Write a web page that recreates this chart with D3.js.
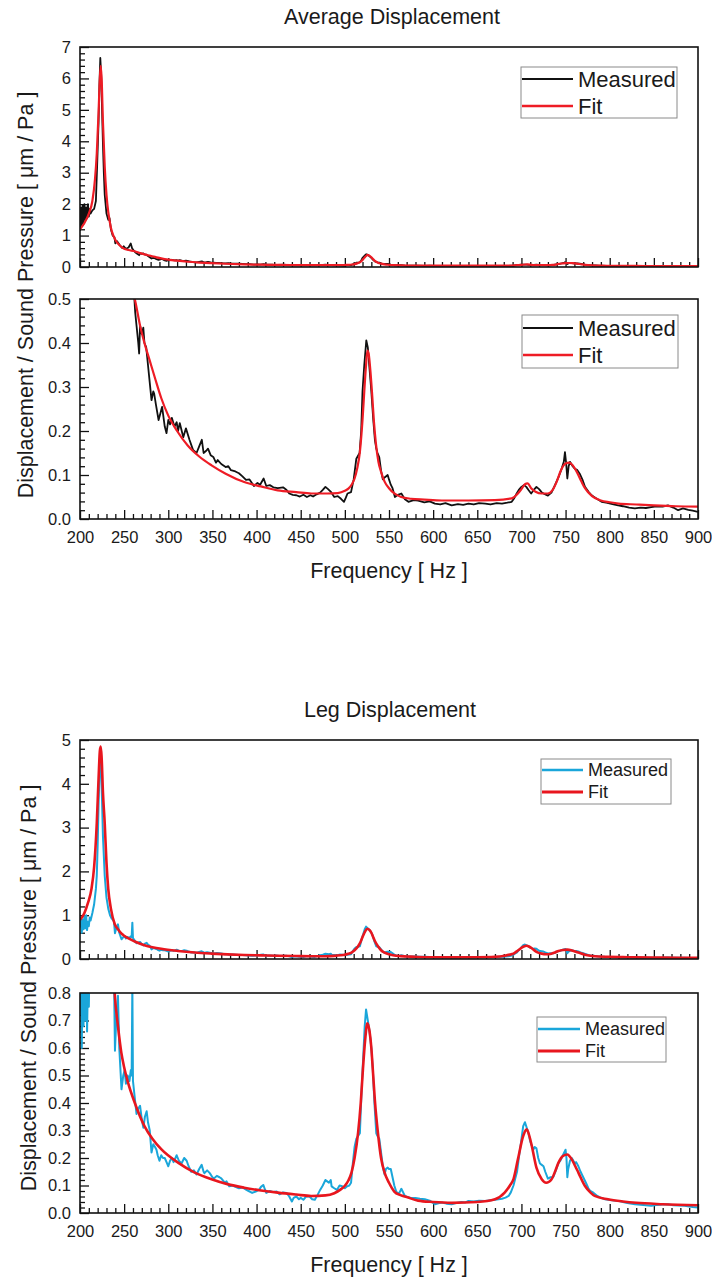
<!DOCTYPE html>
<html>
<head>
<meta charset="utf-8">
<script src="https://cdn.jsdelivr.net/npm/d3@7"></script>
<style>
  html, body { margin: 0; padding: 0; background: #fff; }
  svg { display: block; font-family: "Liberation Sans", Arial, sans-serif; }
</style>
</head>
<body>
<svg id="chart" width="712" height="1283"></svg>
<script>
// ---- data: frequency [Hz], displacement / sound pressure [um/Pa] ----
const freqTicks = [200, 250, 300, 350, 400, 450, 500, 550, 600, 650, 700, 750, 800, 850, 900];

const avgMeasured = [[200,1.15],[201,1.9],[202,1.3],[203,1.95],[204,1.4],[205,2.0],[206,1.5],[207,1.9],[208,1.55],[209,2.0],[210,1.6],[211,1.85],[212,1.7],[214,1.8],[216,1.85],[218,2.1],[219.5,3.3],[221,4.6],[222,5.8],[223,6.65],[224,6.1],[225,5.0],[226,3.9],[227,3.0],[228,2.3],[230,1.7],[232,1.5],[233.5,1.55],[235,1.2],[237,1.0],[239,0.95],[240,0.75],[242,0.82],[245,0.7],[248,0.6],[249.5,0.66],[252,0.58],[255,0.62],[257.5,0.75],[259,0.6],[261,0.52],[262.5,0.47],[264,0.44],[266,0.4],[267,0.376],[268,0.44],[270,0.42],[271.7,0.435],[273,0.4],[275,0.39],[277,0.35],[279,0.31],[281,0.27],[283,0.29],[284,0.285],[286,0.26],[289,0.225],[291,0.24],[293,0.255],[296,0.21],[298,0.195],[300,0.225],[302,0.215],[304,0.23],[307,0.21],[309.5,0.22],[311,0.2],[313,0.218],[317,0.186],[320,0.206],[324,0.18],[328,0.157],[332,0.15],[335,0.165],[338,0.18],[340,0.15],[343,0.155],[345,0.16],[348,0.145],[351,0.141],[354,0.128],[356,0.134],[360,0.125],[365,0.118],[368,0.12],[371,0.111],[376,0.108],[380,0.104],[384,0.097],[388,0.089],[392,0.09],[397,0.075],[401,0.082],[404,0.078],[408,0.092],[411,0.075],[415,0.077],[419,0.072],[424,0.07],[430,0.072],[434,0.066],[437,0.058],[441,0.055],[445,0.054],[449,0.051],[453,0.055],[457,0.05],[461,0.054],[464,0.051],[468,0.056],[472,0.06],[475,0.066],[478,0.073],[481,0.068],[484.5,0.061],[488,0.05],[492,0.052],[495.6,0.046],[499,0.039],[501,0.048],[503,0.058],[507,0.061],[510,0.09],[513,0.137],[516.7,0.15],[518.5,0.2],[520,0.29],[522,0.35],[524.3,0.406],[526,0.39],[528,0.34],[530,0.29],[532,0.23],[534,0.18],[535.6,0.16],[537,0.15],[539,0.14],[541,0.11],[543,0.09],[545.4,0.095],[548.5,0.1],[550,0.09],[552,0.078],[554,0.07],[556.7,0.05],[560,0.055],[564,0.058],[568,0.045],[572,0.039],[578,0.043],[583,0.042],[590,0.038],[596,0.04],[602,0.035],[608,0.033],[614,0.036],[621,0.031],[628,0.034],[634,0.032],[640,0.035],[646,0.033],[652,0.036],[659,0.035],[665,0.033],[672,0.036],[678,0.035],[684,0.037],[689,0.039],[692,0.048],[694.6,0.058],[697,0.066],[700,0.073],[703,0.077],[705.5,0.073],[708,0.066],[711,0.058],[714,0.066],[717,0.073],[720,0.068],[722.8,0.061],[726,0.057],[730,0.053],[734,0.06],[738,0.077],[742,0.095],[745.5,0.114],[748,0.13],[749.3,0.152],[750.5,0.13],[752,0.092],[753.5,0.12],[755,0.13],[758,0.12],[760.6,0.114],[763,0.112],[766,0.103],[769,0.09],[772,0.073],[776,0.062],[779.5,0.054],[784,0.048],[790.8,0.039],[796,0.037],[803,0.034],[809.6,0.031],[815,0.029],[822,0.026],[828.5,0.024],[835,0.026],[841,0.025],[847,0.027],[853,0.029],[860,0.028],[866,0.031],[872,0.026],[877.5,0.02],[883,0.024],[889,0.021],[894,0.019],[900,0.016]];

const avgFit = [[200,1.2],[205,1.4],[210,1.7],[214,2.1],[217,2.8],[219,3.6],[221,4.9],[222.5,6.0],[223.5,6.4],[224.5,6.0],[226,4.6],[228,3.2],[230,2.3],[232,1.75],[235,1.25],[238,0.98],[242,0.78],[246,0.66],[250,0.58],[255,0.54],[262,0.5],[268,0.44],[273,0.4],[279,0.36],[285,0.32],[292,0.275],[300,0.235],[310,0.2],[322,0.167],[335,0.142],[349,0.122],[365,0.103],[386,0.084],[405,0.074],[424,0.065],[445,0.061],[462,0.058],[480,0.058],[492,0.059],[500,0.064],[504,0.069],[508,0.079],[511,0.092],[514,0.115],[517,0.152],[520,0.225],[522,0.29],[524,0.35],[525.5,0.383],[527,0.375],[529,0.335],[531,0.28],[533,0.22],[535,0.175],[538,0.13],[541,0.107],[545,0.085],[550,0.07],[556,0.058],[564,0.05],[575,0.046],[590,0.044],[610,0.042],[640,0.042],[670,0.043],[689,0.047],[696,0.058],[700,0.068],[704,0.079],[707,0.081],[711,0.07],[716,0.062],[723,0.058],[730,0.058],[735,0.065],[740,0.085],[745,0.112],[750,0.126],[754,0.128],[758,0.122],[763,0.106],[768,0.085],[772,0.07],[780,0.052],[790,0.042],[800,0.038],[810,0.035],[830,0.033],[850,0.031],[875,0.029],[900,0.028]];

const legMeasured = [[200,0.72],[201,0.95],[202,0.6],[203,0.9],[204,0.68],[205,0.98],[206,0.7],[207,1.0],[208,0.66],[209,0.85],[210,0.75],[211,0.95],[212,0.88],[214,1.05],[216,1.25],[218,1.6],[219,1.9],[220,2.6],[221,3.5],[222,4.2],[223,4.5],[224,4.3],[225,3.6],[226,2.8],[228,1.9],[230,1.4],[232,1.15],[234,1.0],[236,0.92],[238.5,0.86],[239.6,0.59],[241,0.7],[243,0.79],[244.5,0.6],[247,0.45],[249,0.5],[250.6,0.52],[252,0.47],[254,0.5],[256,0.48],[257.6,0.52],[258.5,0.5],[259.3,0.83],[260,0.48],[262,0.42],[264,0.36],[266,0.38],[268,0.39],[270,0.34],[271.8,0.31],[273.5,0.35],[275.5,0.37],[277,0.33],[279,0.3],[281,0.22],[283,0.25],[285,0.24],[286.6,0.23],[288,0.21],[290,0.19],[292,0.21],[294,0.2],[296,0.2],[298,0.185],[300,0.17],[302,0.19],[304,0.2],[306,0.185],[309.5,0.21],[312,0.19],[315,0.18],[318,0.2],[320.8,0.19],[323,0.17],[326,0.15],[329,0.155],[332,0.14],[335,0.16],[337.8,0.175],[340,0.15],[341,0.145],[344,0.155],[347,0.145],[350,0.13],[352,0.126],[355,0.135],[358,0.13],[360,0.126],[364,0.11],[366,0.115],[369,0.097],[373,0.1],[376,0.095],[380,0.09],[384,0.093],[388,0.085],[391,0.08],[395,0.073],[399,0.078],[403,0.085],[405,0.095],[407.6,0.102],[409,0.09],[411,0.073],[415,0.08],[419,0.076],[422.7,0.078],[426,0.068],[430,0.075],[434,0.073],[437,0.06],[440,0.042],[442,0.055],[445,0.06],[448,0.05],[450,0.055],[453,0.048],[456,0.06],[460,0.06],[463,0.05],[466,0.048],[469,0.065],[472,0.084],[475,0.1],[478,0.12],[480,0.115],[482,0.11],[484,0.12],[485,0.097],[488,0.09],[491,0.084],[494,0.1],[497,0.097],[500,0.09],[502.6,0.097],[505,0.1],[507,0.11],[509,0.18],[511,0.24],[513,0.27],[515,0.28],[517,0.29],[519,0.45],[521,0.58],[522.5,0.68],[524,0.74],[526,0.7],[528,0.66],[530,0.6],[531.7,0.52],[533.5,0.4],[535.6,0.29],[537,0.28],[539,0.27],[541,0.22],[543,0.17],[545,0.14],[546.5,0.16],[548.5,0.165],[550,0.16],[552,0.16],[554,0.13],[556,0.1],[558,0.08],[560,0.07],[562,0.075],[564,0.088],[566,0.075],[568,0.062],[571,0.058],[575,0.055],[580,0.055],[585,0.052],[590.6,0.05],[596,0.045],[602,0.032],[606,0.035],[610,0.038],[615,0.034],[621,0.032],[626,0.036],[632,0.04],[636,0.038],[640,0.044],[646,0.042],[652,0.045],[659,0.044],[665,0.046],[670,0.048],[674,0.05],[678,0.052],[682,0.056],[685.5,0.062],[688,0.075],[691,0.1],[693,0.125],[695,0.15],[697,0.2],[699,0.244],[702,0.316],[704,0.33],[706,0.31],[708,0.29],[710,0.26],[713.4,0.23],[715,0.24],[717,0.235],[719,0.2],[721,0.18],[723,0.175],[725,0.17],[727,0.15],[730,0.125],[733,0.13],[736,0.13],[739,0.155],[741.7,0.18],[744,0.19],[747,0.21],[750,0.23],[751,0.2],[752,0.13],[753,0.16],[755,0.19],[757,0.2],[760.6,0.18],[762,0.185],[764.5,0.17],[767,0.15],[770,0.13],[773,0.11],[775.8,0.09],[778,0.08],[781.5,0.074],[786,0.062],[790,0.055],[794.7,0.05],[800,0.047],[805,0.045],[809.6,0.044],[815,0.04],[820,0.036],[828.5,0.032],[835,0.03],[841,0.028],[847,0.026],[853,0.029],[860,0.031],[866,0.032],[872,0.028],[878,0.027],[885,0.026],[890,0.024],[894,0.022],[900,0.02]];

const legFit = [[200,0.89],[205,1.05],[209,1.28],[213,1.6],[216,2.1],[219,3.1],[221,4.1],[222.5,4.75],[223.5,4.85],[224.5,4.6],[226,3.8],[228,3.1],[230,2.2],[232,1.6],[235,1.15],[239.3,0.8],[243,0.68],[246.8,0.583],[250,0.53],[254.4,0.474],[262,0.401],[273,0.316],[282,0.27],[292,0.232],[311,0.183],[330,0.147],[349,0.123],[367,0.105],[386,0.092],[405,0.082],[424,0.074],[445,0.067],[462,0.062],[478,0.064],[488,0.072],[495,0.085],[500,0.099],[504,0.118],[507.5,0.147],[511,0.2],[515,0.292],[518,0.4],[520.5,0.524],[523,0.63],[525.5,0.69],[528,0.66],[530,0.6],[531.7,0.52],[534,0.41],[537.5,0.29],[541,0.2],[545,0.147],[550,0.11],[556,0.078],[563,0.065],[570,0.058],[583,0.045],[600,0.04],[621,0.037],[650,0.04],[670,0.05],[681,0.074],[687,0.1],[691,0.123],[696,0.195],[702,0.28],[706,0.304],[709,0.28],[712,0.24],[717,0.165],[723,0.123],[728,0.11],[734,0.122],[738,0.15],[742,0.183],[747,0.207],[752,0.213],[757,0.195],[761,0.17],[764.5,0.147],[772,0.098],[778,0.075],[783,0.062],[798,0.05],[815,0.042],[830,0.037],[860,0.032],[900,0.028]];

const seriesNames = ["Measured", "Fit"];
const figureTitles = ["Average Displacement", "Leg Displacement"];
const xTitle = "Frequency [ Hz ]";
const yTitle = "Displacement / Sound Pressure [ \u03bcm / Pa ]";

// ---- figure setup ----
const figures = [
  { title: figureTitles[0], measured: avgMeasured, fit: avgFit,
    measuredColor: "#111111", fitColor: "#ee1c25", measuredWidth: 1.8, fitWidth: 2.2 },
  { title: figureTitles[1], measured: legMeasured, fit: legFit,
    measuredColor: "#1aa6da", fitColor: "#e8161e", measuredWidth: 2, fitWidth: 2.6 }
];

// panel layout: each figure has a full-range panel and a zoomed panel
const panels = [
  { fig: 0, top: 47,  bottom: 267,  yMax: 7,   yStep: 1,   fmt: d3.format("d"),   xLabels: false,
    legend: { x: 521, y: 67,  w: 156, h: 51, fs: 22, r1: 79,  r2: 106, line: 52, tx: 578 } },
  { fig: 0, top: 299, bottom: 519,  yMax: 0.5, yStep: 0.1, fmt: d3.format(".1f"), xLabels: true,
    legend: { x: 522, y: 315, w: 156, h: 53, fs: 22, r1: 328, r2: 355, line: 51, tx: 578 } },
  { fig: 1, top: 740, bottom: 959,  yMax: 5,   yStep: 1,   fmt: d3.format("d"),   xLabels: false,
    legend: { x: 541, y: 759, w: 130, h: 45, fs: 18, r1: 770, r2: 792, line: 42, tx: 588 } },
  { fig: 1, top: 993, bottom: 1213, yMax: 0.8, yStep: 0.1, fmt: d3.format(".1f"), xLabels: true,
    legend: { x: 537, y: 1017, w: 129, h: 45, fs: 18, r1: 1029, r2: 1051, line: 43, tx: 585 } }
];

const svg = d3.select("#chart");
const left = 80, right = 698;
const x = d3.scaleLinear().domain([200, 900]).range([left, right]);
const xMinor = d3.range(200, 901, 10).filter(v => v % 50 !== 0);

const textColor = "#1a1a1a";
const tickFont = 16.5;

panels.forEach((p, i) => {
  const f = figures[p.fig];
  const y = d3.scaleLinear().domain([0, p.yMax]).range([p.bottom, p.top]);
  const nMajor = Math.round(p.yMax / p.yStep);
  const yMajor = d3.range(0, nMajor + 1).map(k => +(k * p.yStep).toFixed(4));
  const yMinor = d3.range(0, nMajor * 5 + 1).filter(k => k % 5 !== 0).map(k => +(k * p.yStep / 5).toFixed(5));

  const g = svg.append("g");

  // clip for curves
  const clipId = "clip" + i;
  svg.append("defs").append("clipPath").attr("id", clipId)
    .append("rect").attr("x", left).attr("y", p.top).attr("width", right - left).attr("height", p.bottom - p.top);

  // minor ticks
  g.append("g").attr("transform", `translate(0,${p.bottom})`)
    .call(d3.axisBottom(x).tickValues(xMinor).tickSize(-5).tickFormat(""))
    .call(a => a.select(".domain").remove());
  g.append("g").attr("transform", `translate(${left},0)`)
    .call(d3.axisLeft(y).tickValues(yMinor).tickSize(-5).tickFormat(""))
    .call(a => a.select(".domain").remove());

  // major ticks with labels
  const xAxis = d3.axisBottom(x).tickValues(freqTicks).tickSize(-9).tickPadding(12.5)
    .tickFormat(p.xLabels ? d3.format("d") : "");
  g.append("g").attr("transform", `translate(0,${p.bottom})`).call(xAxis)
    .call(a => a.select(".domain").remove())
    .call(a => a.selectAll("text").attr("font-size", tickFont).attr("fill", textColor)
      .attr("font-family", "Liberation Sans, Arial, sans-serif"));
  g.append("g").attr("transform", `translate(${left},0)`)
    .call(d3.axisLeft(y).tickValues(yMajor).tickSize(-9).tickPadding(9).tickFormat(p.fmt))
    .call(a => a.select(".domain").remove())
    .call(a => a.selectAll("text").attr("font-size", tickFont).attr("fill", textColor)
      .attr("font-family", "Liberation Sans, Arial, sans-serif"));
  g.selectAll(".tick line").attr("stroke", "#111").attr("stroke-width", 1.3);

  // curves
  const curves = g.append("g").attr("clip-path", `url(#${clipId})`);
  curves.append("path").datum(f.measured)
    .attr("d", d3.line().x(d => x(d[0])).y(d => y(d[1])).curve(d3.curveLinear))
    .attr("fill", "none").attr("stroke", f.measuredColor)
    .attr("stroke-width", f.measuredWidth).attr("stroke-linejoin", "round");
  curves.append("path").datum(f.fit)
    .attr("d", d3.line().x(d => x(d[0])).y(d => y(d[1])).curve(d3.curveMonotoneX))
    .attr("fill", "none").attr("stroke", f.fitColor)
    .attr("stroke-width", f.fitWidth).attr("stroke-linejoin", "round");

  // frame
  g.append("rect").attr("x", left).attr("y", p.top)
    .attr("width", right - left).attr("height", p.bottom - p.top)
    .attr("fill", "none").attr("stroke", "#111").attr("stroke-width", 1.6);

  // legend
  const L = p.legend;
  const lg = g.append("g");
  lg.append("rect").attr("x", L.x).attr("y", L.y).attr("width", L.w).attr("height", L.h)
    .attr("fill", "#fff").attr("stroke", "#8a8a8a").attr("stroke-width", 1);
  [[L.r1, f.measuredColor, f.measuredWidth, seriesNames[0]],
   [L.r2, f.fitColor, f.fitWidth, seriesNames[1]]].forEach(([ry, c, w, name]) => {
    lg.append("line").attr("x1", L.x + 1).attr("x2", L.x + L.line)
      .attr("y1", ry).attr("y2", ry).attr("stroke", c).attr("stroke-width", w + 0.4);
    lg.append("text").attr("x", L.tx).attr("y", ry).attr("dy", "0.35em")
      .attr("font-size", L.fs).attr("fill", textColor).text(name);
  });

  // x title under the zoomed panel
  if (p.xLabels) {
    svg.append("text").attr("x", 389).attr("y", p.bottom + 59)
      .attr("text-anchor", "middle").attr("font-size", 21.5).attr("fill", textColor).text(xTitle);
  }
});

// figure titles
svg.append("text").attr("x", 392).attr("y", 24).attr("text-anchor", "middle")
  .attr("font-size", 21.5).attr("fill", textColor).text(figures[0].title);
svg.append("text").attr("x", 390).attr("y", 717).attr("text-anchor", "middle")
  .attr("font-size", 21.5).attr("fill", textColor).text(figures[1].title);

// shared y titles
[[33, 295], [36, 988]].forEach(([tx, ty]) => {
  svg.append("text").attr("transform", `translate(${tx},${ty}) rotate(-90)`)
    .attr("text-anchor", "middle").attr("font-size", 21.5).attr("fill", textColor).text(yTitle);
});
</script>
</body>
</html>
